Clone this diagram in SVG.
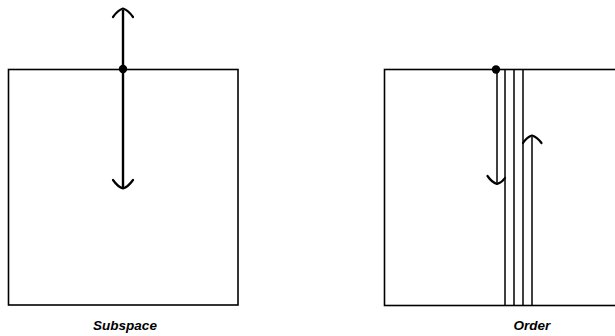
<svg xmlns="http://www.w3.org/2000/svg" width="615" height="336" viewBox="0 0 615 336">
<style>
.box{fill:none;stroke:#000;stroke-width:1.6}
.ln{fill:none;stroke:#000;stroke-width:1.5}
.ax{fill:none;stroke:#000;stroke-width:2.4}
.hd{fill:none;stroke:#000;stroke-width:2.2;stroke-linecap:round;stroke-linejoin:round}
.lbl{font-family:"Liberation Sans",Arial,sans-serif;font-weight:bold;font-style:italic;font-size:13.5px;text-anchor:middle}
</style>
<rect width="615" height="336" fill="#fff"/>
<g id="subspace">
<rect class="box" x="8.5" y="69.5" width="229.5" height="235.5"/>
<text class="lbl" x="125" y="330">Subspace</text>
</g>
<g id="order">
<rect class="box" x="384.5" y="69.5" width="240" height="236"/>
<line class="ln" x1="505" y1="69" x2="505" y2="306"/>
<line class="ln" x1="514" y1="69" x2="514" y2="306"/>
<line class="ln" x1="523" y1="69" x2="523" y2="306"/>
<text class="lbl" x="532" y="330">Order</text>
</g>
<g id="connectors">
<line class="ax" x1="123" y1="10" x2="123" y2="188"/>
<path class="hd" d="M113,17 Q118,10 123,8.5 Q128,10 133,17"/>
<path class="hd" d="M113,180 Q118,187 123,188.5 Q128,187 133,180"/>
<circle cx="123" cy="69" r="4.2" fill="#000"/>
<line class="ln" x1="497" y1="69" x2="497" y2="183"/>
<path class="hd" d="M487.5,176 Q492,182.5 497,184 Q502,182.5 505,178"/>
<circle cx="496" cy="69.5" r="4.2" fill="#000"/>
<line class="ln" x1="532" y1="137" x2="532" y2="306"/>
<path class="hd" d="M523,143 Q527,137 532,135.5 Q537,137 541.5,143"/>
</g>
</svg>
